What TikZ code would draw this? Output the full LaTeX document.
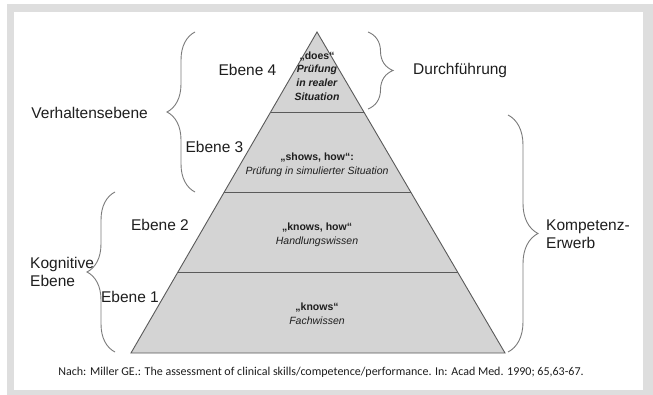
\documentclass[tikz,border=0pt]{standalone}
\usepackage{fontspec}
\setmainfont{Liberation Sans}
\newfontfamily\notefont{Carlito}
\usetikzlibrary{calc,decorations.pathreplacing,positioning}
\definecolor{Frame}{HTML}{DEDEDE}
\definecolor{Stone}{HTML}{D4D4D4}
\definecolor{Edge}{HTML}{5A5A5A}
\definecolor{Bracket}{HTML}{7A7A7A}
\definecolor{Ink}{HTML}{1E1E1E}
\tikzset{
  level/.style={fill=Stone, draw=Edge, line width=0.9pt},
  divider/.style={draw=Edge, line width=0.9pt},
  stage/.style={
    font=\fontsize{10.5}{13.7}\selectfont, text=Ink,
    align=center, inner sep=0pt
  },
  tier/.style={font=\fontsize{15.5}{18}\selectfont, text=Ink, inner sep=0pt},
  group/.style={
    font=\fontsize{15.5}{18.5}\selectfont, text=Ink,
    align=left, inner sep=0pt
  },
  bracket/.style={
    draw=Bracket, line width=0.9pt, decorate,
    decoration={brace, amplitude=#1}
  },
  bracket/.default=26pt,
  source/.style={font=\notefont\fontsize{12}{14}\selectfont, text=Ink, inner sep=0pt}
}

\begin{document}
\begin{tikzpicture}[x=1pt,y=-1pt]
    % frame
    \useasboundingbox (0,0) rectangle (653,395);
    \fill[Frame] (7,4) rectangle (653,395);
    \fill[white] (14,12) rectangle (643,390);

    % pyramid
    \coordinate (apex) at (317,32);
    \coordinate (baseL) at (131,353);
    \coordinate (baseR) at (505,353);
    \filldraw[level] (apex) -- (baseL) -- (baseR) -- cycle;
    \foreach \t/\n in {0.25/a,0.5/b,0.75/c}{
      \coordinate (L\n) at ($(apex)!\t!(baseL)$);
      \coordinate (R\n) at ($(apex)!\t!(baseR)$);
      \draw[divider] (L\n) -- (R\n);
    }

    % level texts
    \node[stage] (does) at (317,76) {\textbf{„does“}\\\textbf{\textit{Prüfung}}\\\textbf{\textit{in realer}}\\\textbf{\textit{Situation}}};
    \node[stage] (shows) at (317,165) {\textbf{„shows, how“:}\\\textit{Prüfung in simulierter Situation}};
    \node[stage] (knowshow) at (317,235) {\textbf{„knows, how“}\\\textit{Handlungswissen}};
    \node[stage] (knows) at (317,314) {\textbf{„knows“}\\\textit{Fachwissen}};

    \node[tier] (e4) at (247.5,70) {Ebene 4};
    \node[tier] (e3) at (214.5,146.5) {Ebene 3};
    \node[tier] (e2) at (160,225) {Ebene 2};
    \node[tier] (e1) at (130,296.5) {Ebene 1};

    % braces
    \coordinate (verhTop) at (195,32);
    \coordinate (verhBot) at (195,192);
    \draw[bracket=28pt] (verhBot) -- (verhTop);
    \node[group,anchor=east] (verh) at (148,113) {Verhaltensebene};

    \coordinate (kogTop) at (115,192);
    \coordinate (kogBot) at (115,352);
    \draw[bracket=28pt] (kogBot) -- (kogTop);
    \node[group,anchor=west] (kog) at (30,272) {Kognitive\\Ebene};

    \coordinate (durchTop) at (368,32);
    \coordinate (durchBot) at (368,109);
    \draw[bracket=25pt] (durchTop) -- (durchBot);
    \node[group,anchor=west] (durch) at (413,70.5) {Durchführung};

    \coordinate (kompTop) at (508,115);
    \coordinate (kompBot) at (508,352);
    \draw[bracket=30pt] (kompTop) -- (kompBot);
    \node[group,anchor=west] (komp) at (546,234) {Kompetenz-\\Erwerb};

    % source line
    \node[source] (nach) at (321,372) {Nach: Miller GE.: The assessment of clinical skills/competence/performance. In: Acad Med. 1990; 65,63-67.};
\end{tikzpicture}
\end{document}
